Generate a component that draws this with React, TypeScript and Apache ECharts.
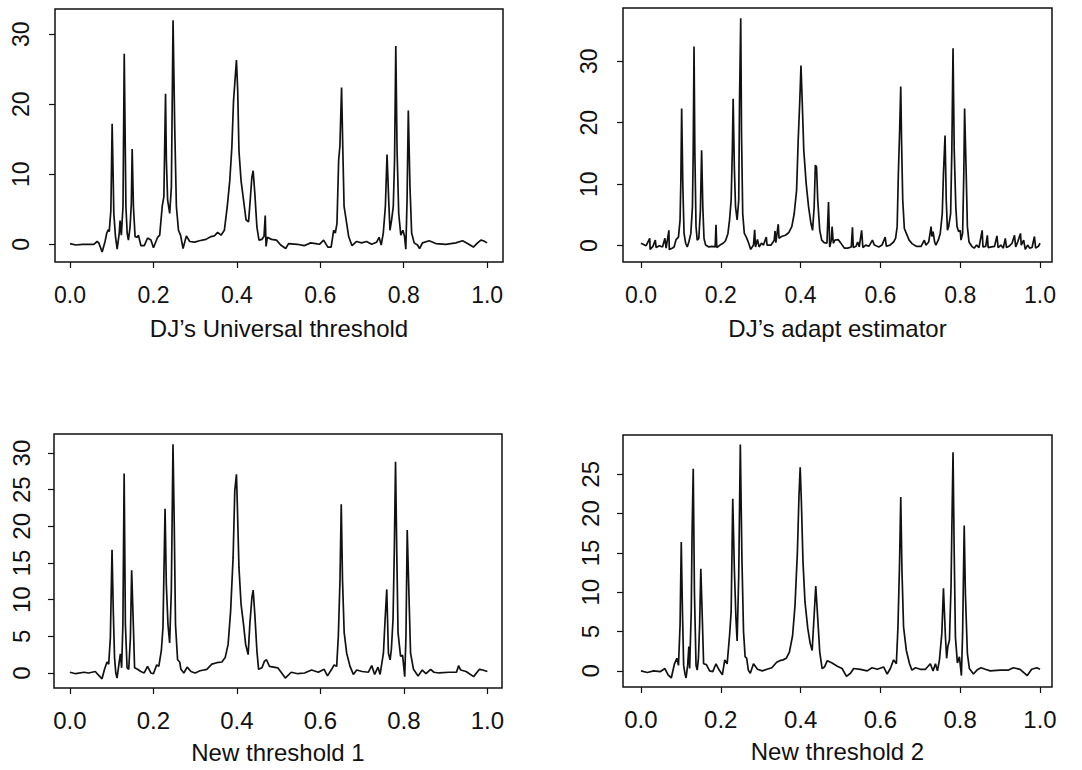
import React, { useEffect, useRef } from "react";
import * as echarts from "echarts";

// Shared tick positions
const xTicks = [0, 0.2, 0.4, 0.6, 0.8, 1.0];
const yTicksUniversal = [0, 10, 20, 30];
const yTicksAdapt = [0, 10, 20, 30];
const yTicksNew1 = [0, 5, 10, 15, 20, 25, 30];
const yTicksNew2 = [0, 5, 10, 15, 20, 25];

const panelTitles = [
  "DJ\u2019s Universal threshold",
  "DJ\u2019s adapt estimator",
  "New threshold 1",
  "New threshold 2",
];

// Reconstructed signal, DJ's universal threshold: [t, value]
const universalCurve: [number, number][] = [
  [0, 0.1], [0.014, -0.1], [0.03, 0], [0.045, 0], [0.057, 0], [0.065, 0.4], [0.069, 0.2], [0.077, -1.1],
  [0.084, 0.4], [0.088, 1.6], [0.092, 2.1], [0.094, 1.8], [0.098, 4.9], [0.101, 17.2], [0.103, 11], [0.105, 4.4],
  [0.109, 1.1], [0.113, -0.7], [0.118, 1.6], [0.12, 3.4], [0.123, 1.3], [0.127, 5.4], [0.13, 27.2], [0.134, 5.4],
  [0.137, 1.6], [0.14, 0.6], [0.144, 2.5], [0.147, 5.8], [0.149, 13.6], [0.152, 5.4], [0.156, 1.1], [0.161, 1.0],
  [0.164, 1.3], [0.17, -0.2], [0.178, -0.2], [0.186, 0.9], [0.194, 0.6], [0.2, -0.5], [0.21, 1.0], [0.215, 1.3],
  [0.221, 5.4], [0.225, 6.8], [0.229, 21.5], [0.231, 12], [0.234, 6.3], [0.239, 4.4], [0.243, 8.2], [0.247, 32],
  [0.251, 16.7], [0.255, 5.4], [0.26, 2.0], [0.265, 1.3], [0.271, -0.6], [0.279, 1.2], [0.287, 0.4], [0.299, 0.3],
  [0.31, 0.5], [0.326, 0.7], [0.338, 1.1], [0.346, 1.2], [0.354, 1.7], [0.362, 1.3], [0.37, 2.0], [0.377, 5.4],
  [0.383, 9.1], [0.388, 13.9], [0.392, 20.5], [0.399, 26.3], [0.402, 21.9], [0.405, 13.4], [0.41, 9.1], [0.416, 6.3],
  [0.422, 3.5], [0.428, 3.2], [0.432, 6.3], [0.436, 9.6], [0.439, 10.5], [0.443, 7.3], [0.448, 2.5], [0.453, 0.6],
  [0.46, 0.7], [0.465, 1.1], [0.468, 4.1], [0.47, -0.3], [0.473, 1.0], [0.483, 0.7], [0.495, 0.6], [0.505, -0.1],
  [0.517, -0.6], [0.524, 0.1], [0.545, 0], [0.561, -0.2], [0.577, 0.2], [0.589, 0.1], [0.598, 0], [0.608, 0.6],
  [0.618, -0.4], [0.626, -0.4], [0.632, 2.0], [0.636, 1.6], [0.64, 3.0], [0.644, 12], [0.647, 14], [0.651, 22.4],
  [0.654, 13.5], [0.657, 5.4], [0.662, 3.5], [0.668, 1.1], [0.676, -0.2], [0.687, 0.4], [0.699, 0.2], [0.711, 0.4],
  [0.723, 0], [0.735, 0.3], [0.741, 1.0], [0.746, -0.1], [0.751, 1.6], [0.756, 5.4], [0.76, 12.8], [0.764, 6.3],
  [0.767, 2.0], [0.771, 3.5], [0.775, 5.4], [0.778, 12], [0.781, 28.3], [0.784, 13.5], [0.788, 4.4], [0.793, 1.3],
  [0.798, 2.0], [0.802, 1.1], [0.805, -0.7], [0.808, 6.3], [0.811, 19.1], [0.815, 8.2], [0.819, 1.6], [0.825, 0.2],
  [0.833, -0.1], [0.838, -0.6], [0.845, 0.2], [0.861, 0.5], [0.877, 0.1], [0.901, 0], [0.925, 0.2], [0.941, 0.5],
  [0.953, 0.1], [0.967, -0.4], [0.977, 0.2], [0.985, 0.6], [0.991, 0.5], [1.0, 0.2],
];

// DJ's adaptive estimator
const adaptCurve: [number, number][] = [
  [0, 0.4], [0.013, 0], [0.022, 1.2], [0.023, -0.6], [0.03, -0.1], [0.036, 0.9], [0.038, -0.3], [0.046, 0],
  [0.054, -0.2], [0.06, 1.2], [0.063, -0.4], [0.07, 2.5], [0.071, -0.6], [0.078, -0.4], [0.083, -0.2], [0.088, 1.0],
  [0.094, 1.4], [0.098, 4.2], [0.1, 10.6], [0.102, 22.3], [0.105, 9.6], [0.108, 2.0], [0.112, 0.4], [0.116, -0.2],
  [0.12, 0.6], [0.125, 2.0], [0.129, 6.3], [0.131, 15.5], [0.133, 32.4], [0.135, 15.5], [0.138, 3.1], [0.141, 0.9],
  [0.145, 1.2], [0.149, 5.8], [0.152, 15.5], [0.155, 6.3], [0.158, 1.2], [0.162, 0.1], [0.17, -0.2], [0.178, -0.1],
  [0.186, -0.2], [0.188, 3.4], [0.19, -0.3], [0.198, 0.1], [0.206, 0.4], [0.212, 0.8], [0.218, 2.0], [0.222, 4.2],
  [0.226, 7.4], [0.229, 15.5], [0.231, 23.9], [0.234, 12.8], [0.237, 6.3], [0.241, 4.2], [0.245, 7.4], [0.247, 23.6],
  [0.25, 37], [0.252, 18.2], [0.255, 5.2], [0.259, 2.0], [0.264, 1.4], [0.27, 0.4], [0.275, -0.6], [0.282, 0.1],
  [0.285, 2.6], [0.287, -0.2], [0.292, 1.0], [0.296, -0.2], [0.302, 0.4], [0.307, 0.1], [0.314, 1.4], [0.316, 0.1],
  [0.326, 0.1], [0.334, 0.9], [0.336, 2.4], [0.338, 0.5], [0.342, 2.5], [0.344, 3.5], [0.346, 1.2], [0.352, 1.5],
  [0.362, 1.7], [0.37, 2.1], [0.378, 3.1], [0.384, 5.2], [0.39, 9.0], [0.394, 17.1], [0.398, 23.6], [0.401, 29.3],
  [0.404, 23.6], [0.408, 15.5], [0.414, 10.1], [0.42, 6.3], [0.426, 3.6], [0.43, 2.5], [0.434, 6.3], [0.437, 13.1],
  [0.44, 12.8], [0.443, 7.4], [0.448, 2.5], [0.453, 0.9], [0.459, 0.5], [0.466, 0.4], [0.47, 7.1], [0.473, -0.2],
  [0.477, 0.9], [0.479, 3.1], [0.482, 0.4], [0.486, 0.9], [0.494, 1.0], [0.5, 0.5], [0.51, -0.4], [0.518, -0.4],
  [0.527, -0.2], [0.53, 3.0], [0.532, -0.3], [0.539, -0.1], [0.543, 0.6], [0.547, -0.2], [0.553, 2.5], [0.556, -0.3],
  [0.563, 0.1], [0.571, -0.1], [0.58, 0.9], [0.585, 0.1], [0.596, -0.2], [0.604, 0.1], [0.612, 1.4], [0.615, -0.1],
  [0.624, 0.1], [0.633, 0.6], [0.638, 1.2], [0.642, 3.1], [0.645, 11.7], [0.648, 18.2], [0.651, 25.9], [0.653, 17.1],
  [0.656, 7.4], [0.66, 2.8], [0.665, 2.0], [0.672, 0.9], [0.68, 0.3], [0.69, -0.1], [0.702, -0.1], [0.71, 0.9],
  [0.714, 0.1], [0.721, 0.6], [0.727, 3.1], [0.729, 1.5], [0.732, 2.3], [0.736, 0.6], [0.739, 0.1], [0.745, 0.9],
  [0.75, 2.0], [0.755, 5.2], [0.758, 11.7], [0.762, 17.9], [0.765, 7.4], [0.768, 2.5], [0.771, 3.1], [0.776, 5.2],
  [0.779, 15.5], [0.782, 32.1], [0.785, 15.5], [0.789, 6.3], [0.792, 3.1], [0.796, 2.3], [0.8, 2.5], [0.802, 0.9],
  [0.806, 2.0], [0.809, 11.7], [0.811, 22.3], [0.815, 11.7], [0.818, 3.1], [0.822, 0.6], [0.829, -0.1], [0.835, -0.4],
  [0.841, 0.1], [0.847, -0.3], [0.855, 2.5], [0.857, -0.2], [0.864, -0.1], [0.868, 1.7], [0.87, -0.3], [0.878, -0.2],
  [0.886, -0.1], [0.892, 1.6], [0.895, -0.3], [0.902, 0.1], [0.908, -0.4], [0.913, 1.2], [0.916, -0.3], [0.922, -0.1],
  [0.93, 0.4], [0.936, 1.7], [0.939, -0.2], [0.944, 0.6], [0.951, 2.0], [0.953, 0.1], [0.959, 0.9], [0.963, -0.6],
  [0.969, 0.1], [0.974, -0.4], [0.98, -0.3], [0.986, 1.5], [0.989, -0.4], [0.996, -0.1], [1.0, 0.4],
];

// New threshold 1
const newOneCurve: [number, number][] = [
  [0, 0.1], [0.014, -0.1], [0.034, 0.1], [0.045, 0], [0.061, 0.2], [0.067, -0.2], [0.077, -0.8], [0.083, 0.5],
  [0.089, 1.5], [0.093, 1.2], [0.097, 4.8], [0.101, 16.8], [0.104, 8.4], [0.107, 2.1], [0.11, 0], [0.113, -0.7],
  [0.118, 1.4], [0.121, 2.6], [0.124, 0.7], [0.127, 6.6], [0.13, 27.2], [0.133, 6.6], [0.137, 0.7], [0.141, 0.5],
  [0.145, 4.8], [0.148, 14], [0.152, 6.6], [0.155, 0.7], [0.162, 0.5], [0.17, 0.2], [0.178, 0], [0.186, 0.9],
  [0.194, 0], [0.2, -0.1], [0.208, 1.1], [0.213, 0.9], [0.219, 3.0], [0.223, 6.2], [0.228, 22.4], [0.231, 12.1],
  [0.235, 6.6], [0.239, 4.1], [0.243, 11.2], [0.247, 31.2], [0.25, 20.3], [0.253, 6.6], [0.258, 1.8], [0.263, 1.5],
  [0.266, 0.5], [0.273, 0], [0.281, 0.8], [0.29, 0.2], [0.3, 0], [0.312, 0.3], [0.328, 0.5], [0.34, 1.2],
  [0.352, 1.4], [0.364, 1.5], [0.372, 2.1], [0.379, 3.9], [0.385, 8.4], [0.391, 15.8], [0.395, 24.9], [0.399, 27.1],
  [0.401, 23.1], [0.405, 14.4], [0.41, 9.4], [0.416, 6.6], [0.421, 3.9], [0.427, 2.5], [0.431, 6.6], [0.436, 10.3],
  [0.439, 11.3], [0.443, 8.0], [0.448, 3.0], [0.452, 0.5], [0.46, 0.7], [0.466, 1.6], [0.471, 1.8], [0.478, 0.9],
  [0.498, 0.7], [0.506, 0.1], [0.516, -0.7], [0.53, 0.1], [0.546, -0.1], [0.562, 0], [0.579, 0.4], [0.595, 0.1],
  [0.609, 0.5], [0.617, -0.4], [0.627, 0.5], [0.633, 1.1], [0.639, 0.9], [0.643, 5], [0.647, 12.7], [0.65, 23],
  [0.653, 12.7], [0.657, 5.5], [0.663, 2.7], [0.671, 0.9], [0.679, -0.2], [0.687, 0.4], [0.7, 0.2], [0.715, 0.1],
  [0.723, 1.0], [0.73, -0.2], [0.738, 0.8], [0.743, -0.2], [0.751, 2.7], [0.755, 7.3], [0.759, 11.4], [0.763, 2.7],
  [0.767, 1.8], [0.77, 3.2], [0.774, 7.3], [0.777, 16.4], [0.78, 28.8], [0.783, 16.4], [0.786, 5.5], [0.792, 2.3],
  [0.797, 2.4], [0.802, -0.5], [0.805, 5], [0.808, 19.5], [0.812, 10.9], [0.816, 2.7], [0.823, 0.5], [0.834, -0.4],
  [0.844, 0.4], [0.853, -0.1], [0.864, 0.5], [0.872, 0.1], [0.884, 0], [0.908, 0.1], [0.926, 0.1], [0.931, 1.0],
  [0.936, 0.4], [0.949, 0.2], [0.967, -0.5], [0.981, 0.5], [0.989, 0.4], [1.0, 0.2],
];

// New threshold 2
const newTwoCurve: [number, number][] = [
  [0, 0], [0.016, -0.2], [0.032, 0], [0.048, -0.1], [0.06, 0.3], [0.068, -0.5], [0.076, -0.9], [0.084, 0.9],
  [0.09, 1.6], [0.094, 0.7], [0.098, 5.8], [0.101, 16.4], [0.104, 7.5], [0.107, 0.7], [0.11, -0.3], [0.113, -0.9],
  [0.117, 0.7], [0.12, 3.1], [0.122, 0.3], [0.126, 7.5], [0.128, 17.2], [0.131, 25.7], [0.134, 10], [0.138, 0.7],
  [0.141, 0.1], [0.144, 1.6], [0.147, 5.8], [0.15, 13], [0.154, 6.2], [0.157, 0.9], [0.164, 0.8], [0.172, 0],
  [0.18, -0.1], [0.188, 0.9], [0.196, 0.1], [0.204, -0.5], [0.21, 1.4], [0.216, 0.9], [0.222, 4.5], [0.226, 7.5],
  [0.23, 21.9], [0.234, 13], [0.238, 6.7], [0.241, 3.8], [0.245, 12.2], [0.249, 28.8], [0.253, 14.3], [0.257, 5],
  [0.261, 1.8], [0.265, 1.6], [0.269, 0.1], [0.274, -0.3], [0.282, 0.9], [0.292, 0.2], [0.304, 0], [0.316, 0.2],
  [0.328, 0.4], [0.34, 1.1], [0.348, 1.3], [0.356, 1.4], [0.364, 1.6], [0.372, 2.4], [0.38, 4.5], [0.386, 8.3],
  [0.392, 15.1], [0.396, 22.3], [0.399, 25.9], [0.402, 21.5], [0.406, 13.9], [0.411, 8.8], [0.418, 5.4], [0.424, 3.5],
  [0.429, 2.6], [0.434, 7.1], [0.438, 10.8], [0.442, 7.5], [0.448, 2.4], [0.454, 0.3], [0.46, 0.5], [0.467, 1.3],
  [0.479, 1.0], [0.492, 0.6], [0.504, 0.3], [0.515, -0.7], [0.525, -0.3], [0.533, 0.3], [0.55, 0.2], [0.567, 0],
  [0.579, 0.4], [0.592, 0.2], [0.608, 0.5], [0.617, -0.4], [0.625, 0.3], [0.633, 1.4], [0.64, 0.9], [0.644, 5.6],
  [0.648, 13.7], [0.651, 22.1], [0.654, 12.8], [0.658, 5.6], [0.665, 2.6], [0.673, 0.9], [0.679, 0.1], [0.688, 0.4],
  [0.7, 0.2], [0.713, 0.2], [0.725, 0.9], [0.732, 0], [0.738, 0.9], [0.743, 0], [0.748, 1.4], [0.754, 4.8],
  [0.758, 10.5], [0.763, 4.3], [0.766, 1.6], [0.769, 3.1], [0.773, 3.9], [0.777, 10.7], [0.779, 17.9], [0.782, 27.8],
  [0.785, 14.9], [0.788, 4.3], [0.793, 1.0], [0.798, 1.8], [0.803, -0.6], [0.806, 4.8], [0.81, 18.5], [0.813, 9.8],
  [0.818, 2.2], [0.823, 0.3], [0.829, -0.1], [0.833, -0.4], [0.842, 0.1], [0.852, 0.4], [0.863, 0.2], [0.875, 0],
  [0.9, 0.1], [0.921, 0.1], [0.933, 0.4], [0.95, 0.2], [0.968, -0.6], [0.979, 0.2], [0.992, 0.4], [1.0, 0.2],
];

const INK = "#111111";
const FONT = "'Liberation Sans', Arial, Helvetica, sans-serif";

export default function App() {
  const ref = useRef<HTMLDivElement | null>(null);

  useEffect(() => {
    if (!ref.current) return;
    const chart = echarts.init(ref.current, undefined, { renderer: "svg" });

    const panels = [
      { curve: universalCurve, yTicks: yTicksUniversal, title: panelTitles[0],
        left: 55, top: 9, width: 448, height: 253, xMin: -0.036, xMax: 1.038, yMin: -2.53, yMax: 33.6,
        tickSize: 23, titleSize: 24, labelGap: 21, titleGap: 54, yGap: 23 },
      { curve: adaptCurve, yTicks: yTicksAdapt, title: panelTitles[1],
        left: 623, top: 8, width: 429, height: 254, xMin: -0.045, xMax: 1.03, yMin: -2.65, yMax: 38.65,
        tickSize: 23, titleSize: 24, labelGap: 21, titleGap: 54, yGap: 23 },
      { curve: newOneCurve, yTicks: yTicksNew1, title: panelTitles[2],
        left: 54, top: 434, width: 448, height: 254, xMin: -0.038, xMax: 1.035, yMin: -2.05, yMax: 32.6,
        tickSize: 24, titleSize: 24, labelGap: 20, titleGap: 52, yGap: 21 },
      { curve: newTwoCurve, yTicks: yTicksNew2, title: panelTitles[3],
        left: 623, top: 435, width: 429, height: 252, xMin: -0.045, xMax: 1.03, yMin: -2.05, yMax: 30.0,
        tickSize: 24, titleSize: 24, labelGap: 20, titleGap: 52, yGap: 21 },
    ];

    chart.setOption({
      animation: false,
      backgroundColor: "#ffffff",
      grid: panels.map((p) => ({
        left: p.left, top: p.top, width: p.width, height: p.height,
        show: true, borderColor: INK, borderWidth: 1.5, backgroundColor: "transparent",
      })),
      xAxis: panels.map((p, i) => ({
        type: "value", gridIndex: i, min: p.xMin, max: p.xMax, position: "bottom",
        axisLine: { show: false, onZero: false }, splitLine: { show: false },
        axisTick: { show: true, length: 6, customValues: xTicks, lineStyle: { color: INK, width: 1.2 } },
        axisLabel: {
          customValues: xTicks, formatter: (v: number) => v.toFixed(1),
          color: INK, fontFamily: FONT, fontSize: p.tickSize, margin: p.labelGap,
        },
        name: p.title, nameLocation: "middle", nameGap: p.titleGap,
        nameTextStyle: { color: INK, fontFamily: FONT, fontSize: p.titleSize },
      })),
      yAxis: panels.map((p, i) => ({
        type: "value", gridIndex: i, min: p.yMin, max: p.yMax, position: "left",
        axisLine: { show: false, onZero: false }, splitLine: { show: false },
        axisTick: { show: true, length: 6, customValues: p.yTicks, lineStyle: { color: INK, width: 1.2 } },
        axisLabel: {
          customValues: p.yTicks, rotate: 90, formatter: (v: number) => String(v),
          color: INK, fontFamily: FONT, fontSize: p.tickSize, margin: p.yGap,
        },
      })),
      series: panels.map((p, i) => ({
        type: "line", xAxisIndex: i, yAxisIndex: i, data: p.curve,
        showSymbol: false, symbol: "none", clip: true,
        lineStyle: { color: INK, width: 1.7 },
      })),
    });

    return () => chart.dispose();
  }, []);

  return (
    <div
      ref={ref}
      style={{ position: "absolute", left: 0, top: 0, width: 1082, height: 770, background: "#fff" }}
    />
  );
}
